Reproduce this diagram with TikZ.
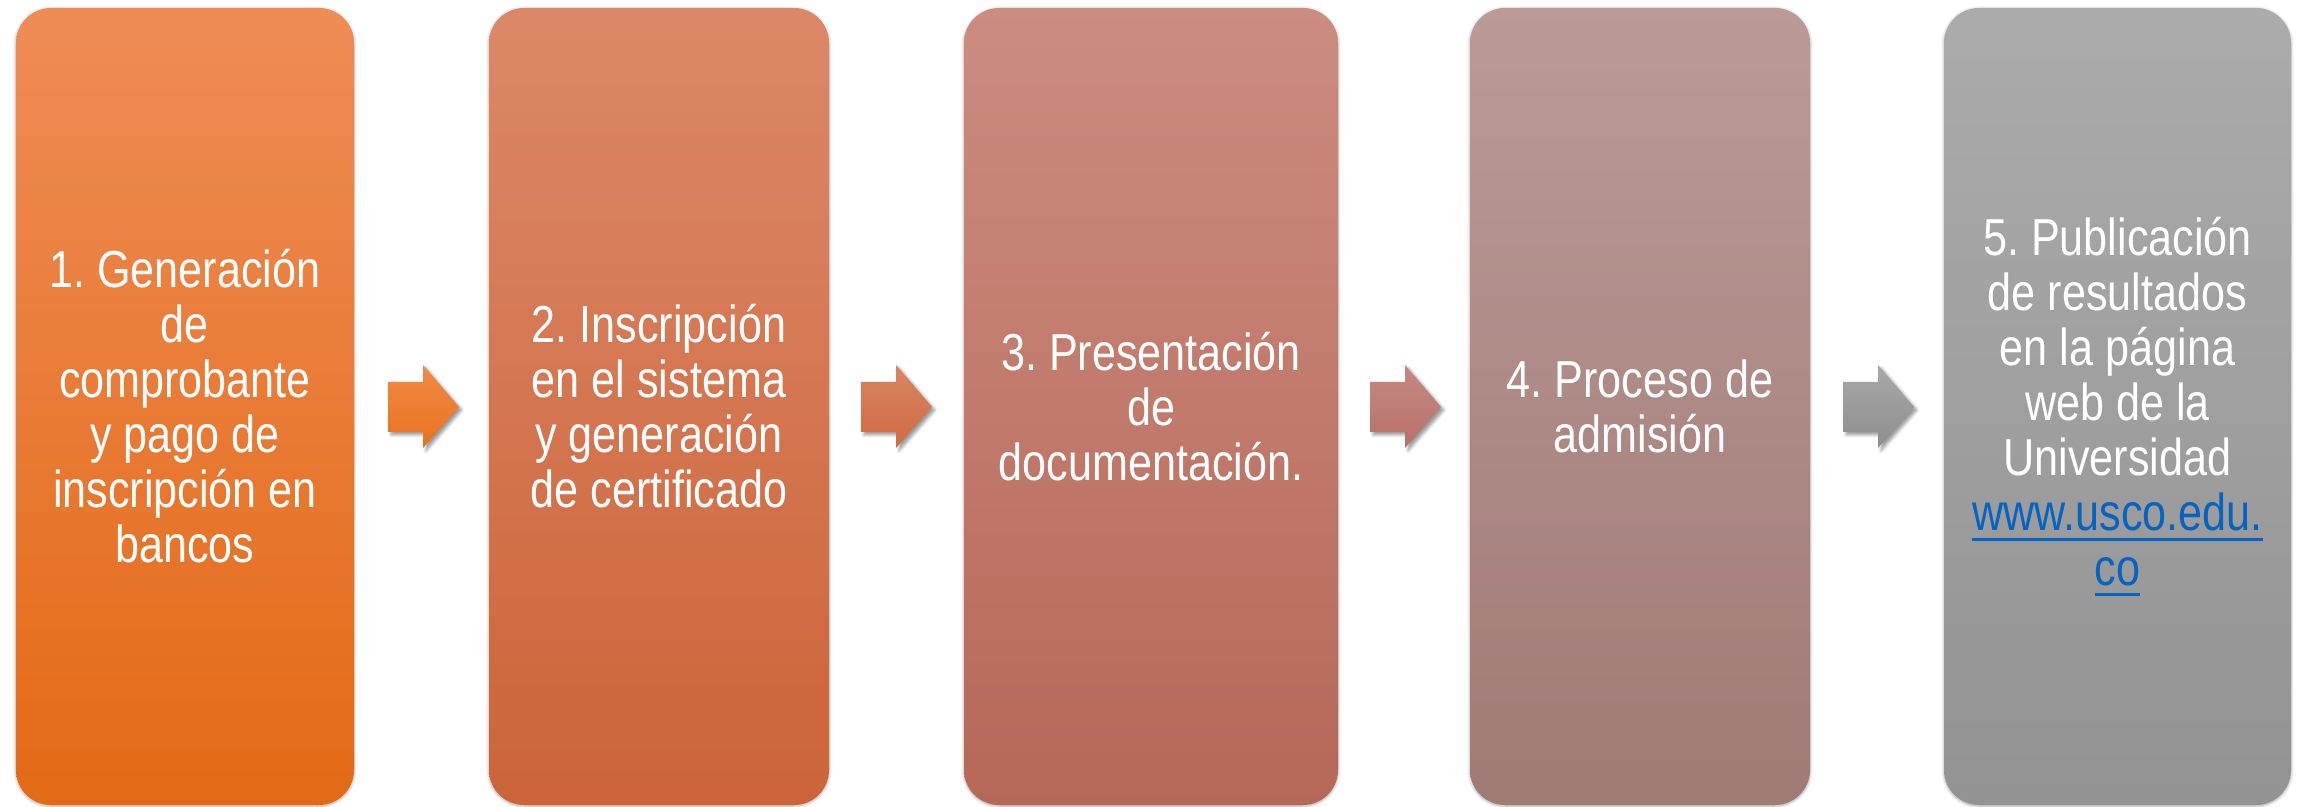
\documentclass[tikz,border=0pt]{standalone}
\usepackage{fontspec}
\usetikzlibrary{shadows.blur}
\newfontfamily\narrowsans[FakeStretch=0.83]{Liberation Sans}
\definecolor{linkblue}{HTML}{0563C1}
\newcommand{\ulink}[1]{\mbox{\setbox0\hbox{#1}\rlap{\color{linkblue}\rule[-10pt]{\wd0}{3pt}}\box0}}
\frenchspacing
\tikzset{
  stepbox/.style={rounded corners=35pt, minimum height=797pt, inner sep=0pt,
    align=center, text=white, font=\narrowsans\frenchspacing\fontsize{52}{55}\selectfont,
    blur shadow={shadow xshift=0pt, shadow yshift=-1pt, shadow blur radius=3pt, shadow opacity=35}},
  arrowshape/.style={blur shadow={shadow xshift=3pt, shadow yshift=-3pt, shadow blur radius=3pt, shadow opacity=40}}
}
\newcommand{\blockarrow}[3]{%
  \path[arrowshape, top color=#2, bottom color=#3]
    (#1,374) -- (#1+35,374) -- (#1+35,358) -- (#1+71,399) -- (#1+35,441)
    -- (#1+35,424) -- (#1,424) -- cycle;}
\begin{document}
\begin{tikzpicture}[x=1pt,y=1pt]
\useasboundingbox (0,0) rectangle (2305,806);
\node[stepbox, minimum width=338pt, top color={rgb,255:red,239;green,140;blue,86}, bottom color={rgb,255:red,227;green,106;blue,21}] (b1) at (185,399.5)
  {1. Generación\\de\\comprobante\\y pago de\\inscripción en\\bancos};
\node[stepbox, minimum width=340pt, top color={rgb,255:red,220;green,136;blue,104}, bottom color={rgb,255:red,204;green,100;blue,56}] (b2) at (659,399.5)
  {2. Inscripción\\en el sistema\\y generación\\de certificado};
\node[stepbox, minimum width=374pt, top color={rgb,255:red,204;green,140;blue,128}, bottom color={rgb,255:red,182;green,104;blue,88}] (b3) at (1151,399.5)
  {3. Presentación\\de\\documentación.};
\node[stepbox, minimum width=340pt, top color={rgb,255:red,187;green,154;blue,151}, bottom color={rgb,255:red,160;green,122;blue,117}] (b4) at (1640,399.5)
  {4. Proceso de\\admisión};
\node[stepbox, minimum width=347pt, top color={rgb,255:red,171;green,171;blue,171}, bottom color={rgb,255:red,147;green,147;blue,147}] (b5) at (2117.5,399.5)
  {5. Publicación\\de resultados\\en la página\\web de la\\Universidad\\{\color{linkblue}\ulink{www.usco.edu.}}\\{\color{linkblue}\ulink{co}}};
\blockarrow{388}{{rgb,255:red,242;green,138;blue,69}}{{rgb,255:red,233;green,113;blue,31}}
\blockarrow{861}{{rgb,255:red,218;green,133;blue,96}}{{rgb,255:red,207;green,106;blue,68}}
\blockarrow{1370}{{rgb,255:red,196;green,138;blue,130}}{{rgb,255:red,184;green,112;blue,106}}
\blockarrow{1843}{{rgb,255:red,168;green,168;blue,168}}{{rgb,255:red,142;green,142;blue,142}}
\end{tikzpicture}
\end{document}
